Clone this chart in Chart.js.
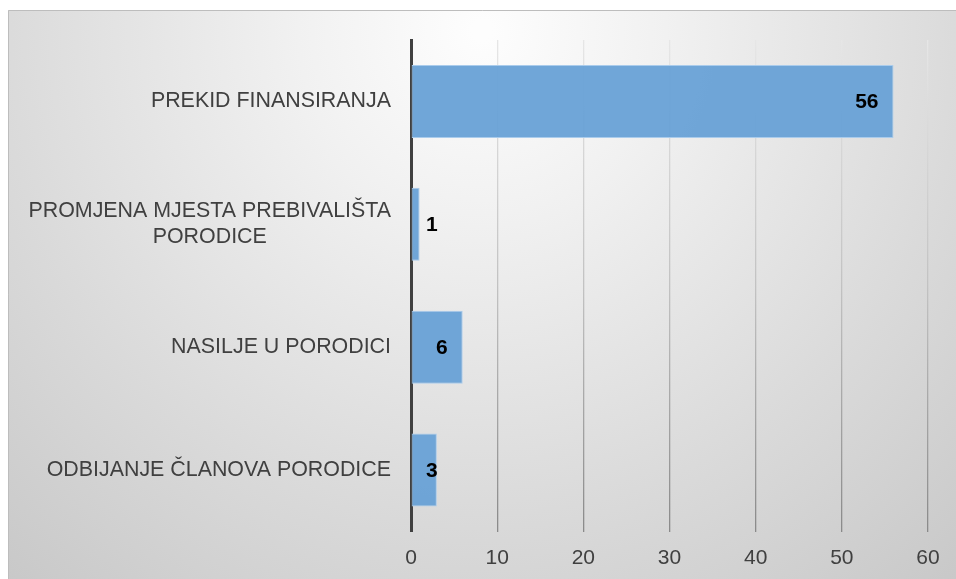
<!DOCTYPE html>
<html>
<head>
<meta charset="utf-8">
<script src="https://cdn.jsdelivr.net/npm/chart.js@4/dist/chart.umd.min.js"></script>
<style>
  html, body { margin: 0; padding: 0; background: #ffffff; width: 956px; height: 579px; overflow: hidden; }
  #wrap { position: absolute; left: 8px; top: 10px; width: 948px; height: 569px; }
  canvas { display: block; }
</style>
</head>
<body>
<div id="wrap"><canvas id="c" width="948" height="569"></canvas></div>
<script>
const categories = [
  ["PREKID FINANSIRANJA"],
  ["PROMJENA MJESTA PREBIVALIŠTA", "PORODICE"],
  ["NASILJE U PORODICI"],
  ["ODBIJANJE ČLANOVA PORODICE"]
];
const values = [56, 1, 6, 3];
const xTicks = [0, 10, 20, 30, 40, 50, 60];

const FONT = "'Liberation Sans', Arial, sans-serif";

const bgPlugin = {
  id: 'bg',
  beforeDraw(chart) {
    const ctx = chart.ctx, w = chart.width, h = chart.height;
    ctx.save();
    const g = ctx.createRadialGradient(w * 0.5, 20, 10, w * 0.5, 20, 800);
    g.addColorStop(0, '#fdfdfd');
    g.addColorStop(0.22, '#f1f1f1');
    g.addColorStop(0.6, '#dadada');
    g.addColorStop(1, '#c3c3c3');
    ctx.fillStyle = g;
    ctx.fillRect(0, 0, w, h);
    ctx.strokeStyle = '#bdbdbd';
    ctx.lineWidth = 1;
    ctx.beginPath();
    ctx.moveTo(0.5, h); ctx.lineTo(0.5, 0.5); ctx.lineTo(w, 0.5);
    ctx.stroke();
    ctx.restore();
  }
};

const catLabelPlugin = {
  id: 'catLabels',
  afterDraw(chart) {
    const ctx = chart.ctx;
    const ys = chart.scales.y;
    const right = chart.chartArea.left - 20;
    const lh = 26;
    ctx.save();
    ctx.font = '21.4px ' + FONT;
    ctx.fillStyle = '#404040';
    ctx.textBaseline = 'middle';
    ctx.textAlign = 'center';
    categories.forEach((lines, i) => {
      const yc = ys.getPixelForValue(i);
      const wMax = Math.max(...lines.map(l => ctx.measureText(l).width));
      const cx = right - wMax / 2;
      const y0 = yc - (lines.length - 1) * lh / 2;
      lines.forEach((l, k) => ctx.fillText(l, cx, y0 + k * lh));
    });
    ctx.restore();
  }
};

const valLabelPlugin = {
  id: 'valLabels',
  afterDatasetsDraw(chart) {
    const ctx = chart.ctx;
    const meta = chart.getDatasetMeta(0);
    ctx.save();
    ctx.font = 'bold 21px ' + FONT;
    ctx.fillStyle = '#000000';
    ctx.textBaseline = 'middle';
    ctx.textAlign = 'right';
    meta.data.forEach((bar, i) => {
      const p = bar.getProps(['x', 'y', 'base'], true);
      const rightEdge = Math.max(p.x - 15, p.base + 26);
      ctx.fillText(String(values[i]), rightEdge, p.y + 1);
    });
    ctx.restore();
  }
};

function gridColor(context) {
  const chart = context.chart;
  const a = chart.chartArea;
  if (!a) return '#aaaaaa';
  const g = chart.ctx.createLinearGradient(0, a.top, 0, a.bottom);
  g.addColorStop(0, '#e6e6e6');
  g.addColorStop(0.5, '#c2c2c2');
  g.addColorStop(1, '#8a8a8a');
  return g;
}

new Chart(document.getElementById('c'), {
  type: 'bar',
  data: {
    labels: categories.map(c => c.join(' ')),
    datasets: [{
      data: values,
      backgroundColor: 'rgba(104,161,214,0.95)',
      borderColor: 'rgba(170,204,236,1)',
      borderWidth: 1,
      borderSkipped: false,
      categoryPercentage: 1.0,
      barPercentage: 0.595
    }]
  },
  options: {
    indexAxis: 'y',
    responsive: false,
    animation: false,
    devicePixelRatio: 1,
    layout: { padding: { top: 30, right: 28, left: 0, bottom: 0 } },
    plugins: { legend: { display: false }, tooltip: { enabled: false } },
    scales: {
      x: {
        min: 0, max: 60,
        afterBuildTicks(scale) { scale.ticks = xTicks.map(v => ({ value: v })); },
        afterFit(scale) { scale.height = 47.5; },
        grid: { color: gridColor, lineWidth: 1.3, drawTicks: false },
        border: { display: false },
        ticks: {
          color: '#404040',
          font: { family: FONT, size: 21 },
          padding: 14
        }
      },
      y: {
        afterFit(scale) { scale.width = 403; },
        grid: { display: false, drawTicks: false },
        border: { display: true, color: '#404040', width: 3 },
        ticks: { display: false }
      }
    }
  },
  plugins: [bgPlugin, catLabelPlugin, valLabelPlugin]
});
</script>
</body>
</html>
